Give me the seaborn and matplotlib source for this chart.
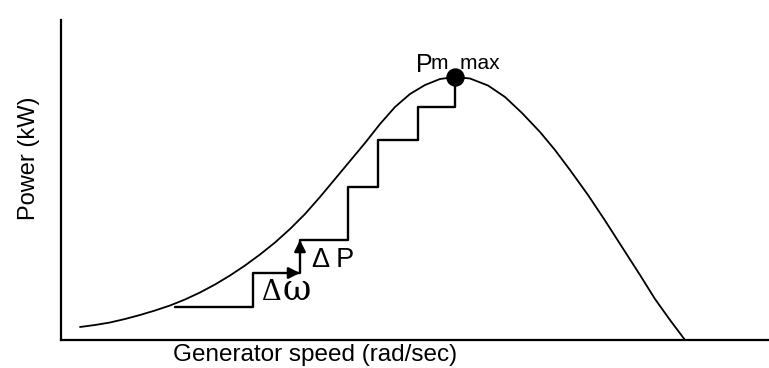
import numpy as np
import pandas as pd
import matplotlib
matplotlib.use("Agg")
import matplotlib.pyplot as plt
import seaborn as sns

# Power curve of the generator (speed vs. power, arbitrary units)
speed = [19, 34, 49, 64, 79, 94, 109, 124, 139, 154, 169, 184, 199, 214, 229,
         244, 259, 274, 289, 304, 319, 334, 349, 364, 379, 394, 409, 427, 444,
         461, 479, 494, 509, 527, 544, 561, 579, 594, 609, 624]
power = [13, 15, 17.5, 21, 25, 29.5, 34.5, 40.5, 47.5, 55.5, 64.5, 74.5, 85.5,
         97.5, 111, 126, 143, 161, 179, 197, 216, 233, 246, 255, 261, 263, 261.5,
         254.5, 243, 227, 208, 190, 170, 145, 119.5, 93, 65, 41, 20, 0]

# Perturb-and-observe staircase: speed steps and the power reached at each
step_speed = [114, 192, 239, 287, 317, 357, 394]
step_power = [33, 67, 100, 153, 200, 233, 263]

# Maximum power point
peak_speed = 394
peak_power = 263

sns.set_theme(style="white")
plt.rcParams["font.family"] = ["Liberation Sans", "DejaVu Sans"]

fig = plt.figure(figsize=(7.69, 3.68), dpi=100)
ax = fig.add_axes([61 / 769, 28 / 368, 708 / 769, 320 / 368])

curve = pd.DataFrame({"speed": speed, "power": power})
sns.lineplot(data=curve, x="speed", y="power", ax=ax, color="black",
             linewidth=1.3, sort=False)

steps = pd.DataFrame({"speed": step_speed, "power": step_power})
sns.lineplot(data=steps, x="speed", y="power", ax=ax, color="black",
             linewidth=1.7, drawstyle="steps-post", sort=False)

# Arrow heads on the second step: speed increment then power increment
ax.annotate("", xy=(step_speed[2], step_power[1]),
            xytext=(step_speed[2] - 12, step_power[1]),
            arrowprops=dict(arrowstyle="-|>", color="black", lw=1.7,
                            mutation_scale=17, shrinkA=0, shrinkB=0))
ax.annotate("", xy=(step_speed[2], step_power[2]),
            xytext=(step_speed[2], step_power[2] - 12),
            arrowprops=dict(arrowstyle="-|>", color="black", lw=1.7,
                            mutation_scale=17, shrinkA=0, shrinkB=0))

sns.scatterplot(x=[peak_speed], y=[peak_power], ax=ax, color="black",
                s=150, edgecolor="black", zorder=5)

ax.text(201, 40, "\u0394", fontsize=22,
        family=["Liberation Serif", "DejaVu Serif"],
        color="black", ha="left", va="baseline")
ax.text(222, 40, "\u03c9", fontsize=25,
        family=["DejaVu Serif"],
        color="black", ha="left", va="baseline")
ax.text(251, 73, "\u0394 P", fontsize=19.5, color="black", ha="left",
        va="baseline")
ax.text(355, 268, "P", fontsize=18, color="black", ha="left", va="baseline")
ax.text(370, 271, "m  max", fontsize=15, color="black", ha="left",
        va="baseline")

ax.set_xlim(0, 708)
ax.set_ylim(0, 320)
ax.set_xticks([])
ax.set_yticks([])
ax.set_xlabel("Generator speed (rad/sec)", fontsize=17.5, color="black")
ax.set_ylabel("Power (kW)", fontsize=17, color="black")
ax.xaxis.set_label_coords(0.359, -0.012, transform=ax.transAxes)
ax.yaxis.set_label_coords(-0.03, 0.569, transform=ax.transAxes)
ax.xaxis.label.set_va("top")

sns.despine(ax=ax)
for side in ("left", "bottom"):
    ax.spines[side].set_color("black")
    ax.spines[side].set_linewidth(1.6)

fig.savefig("out.png", dpi=100, facecolor="white")
